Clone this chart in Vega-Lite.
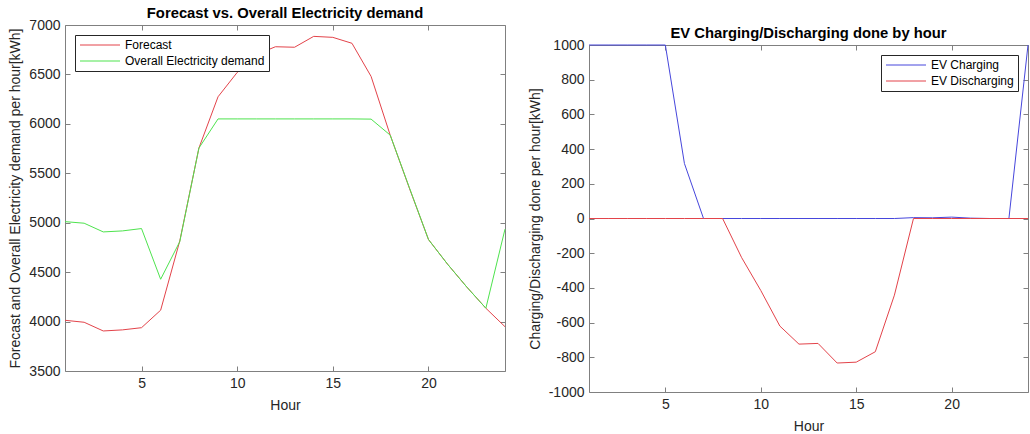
{
  "$schema": "https://vega.github.io/schema/vega-lite/v6.json",
  "padding": {"left": 8, "top": 5, "right": 0, "bottom": 0},
  "background": "white",
  "datasets": {
    "demand": [
      {"hour": 1, "series": "Forecast", "value": 4013},
      {"hour": 2, "series": "Forecast", "value": 3993},
      {"hour": 3, "series": "Forecast", "value": 3905},
      {"hour": 4, "series": "Forecast", "value": 3916},
      {"hour": 5, "series": "Forecast", "value": 3938},
      {"hour": 6, "series": "Forecast", "value": 4115},
      {"hour": 7, "series": "Forecast", "value": 4816},
      {"hour": 8, "series": "Forecast", "value": 5755},
      {"hour": 9, "series": "Forecast", "value": 6274},
      {"hour": 10, "series": "Forecast", "value": 6520},
      {"hour": 11, "series": "Forecast", "value": 6700},
      {"hour": 12, "series": "Forecast", "value": 6780},
      {"hour": 13, "series": "Forecast", "value": 6775},
      {"hour": 14, "series": "Forecast", "value": 6885},
      {"hour": 15, "series": "Forecast", "value": 6875},
      {"hour": 16, "series": "Forecast", "value": 6815},
      {"hour": 17, "series": "Forecast", "value": 6480},
      {"hour": 18, "series": "Forecast", "value": 5886},
      {"hour": 19, "series": "Forecast", "value": 5350},
      {"hour": 20, "series": "Forecast", "value": 4830},
      {"hour": 21, "series": "Forecast", "value": 4580},
      {"hour": 22, "series": "Forecast", "value": 4350},
      {"hour": 23, "series": "Forecast", "value": 4135},
      {"hour": 24, "series": "Forecast", "value": 3948},
      {"hour": 1, "series": "Overall Electricity demand", "value": 5011},
      {"hour": 2, "series": "Overall Electricity demand", "value": 4995},
      {"hour": 3, "series": "Overall Electricity demand", "value": 4907},
      {"hour": 4, "series": "Overall Electricity demand", "value": 4917},
      {"hour": 5, "series": "Overall Electricity demand", "value": 4941},
      {"hour": 6, "series": "Overall Electricity demand", "value": 4428},
      {"hour": 7, "series": "Overall Electricity demand", "value": 4809},
      {"hour": 8, "series": "Overall Electricity demand", "value": 5755},
      {"hour": 9, "series": "Overall Electricity demand", "value": 6050},
      {"hour": 10, "series": "Overall Electricity demand", "value": 6050},
      {"hour": 11, "series": "Overall Electricity demand", "value": 6050},
      {"hour": 12, "series": "Overall Electricity demand", "value": 6050},
      {"hour": 13, "series": "Overall Electricity demand", "value": 6050},
      {"hour": 14, "series": "Overall Electricity demand", "value": 6050},
      {"hour": 15, "series": "Overall Electricity demand", "value": 6050},
      {"hour": 16, "series": "Overall Electricity demand", "value": 6050},
      {"hour": 17, "series": "Overall Electricity demand", "value": 6048},
      {"hour": 18, "series": "Overall Electricity demand", "value": 5886},
      {"hour": 19, "series": "Overall Electricity demand", "value": 5355},
      {"hour": 20, "series": "Overall Electricity demand", "value": 4830},
      {"hour": 21, "series": "Overall Electricity demand", "value": 4580},
      {"hour": 22, "series": "Overall Electricity demand", "value": 4350},
      {"hour": 23, "series": "Overall Electricity demand", "value": 4135},
      {"hour": 24, "series": "Overall Electricity demand", "value": 4935}
    ],
    "ev": [
      {"hour": 1, "series": "EV Charging", "value": 1000},
      {"hour": 2, "series": "EV Charging", "value": 1000},
      {"hour": 3, "series": "EV Charging", "value": 1000},
      {"hour": 4, "series": "EV Charging", "value": 1000},
      {"hour": 5, "series": "EV Charging", "value": 1000},
      {"hour": 6, "series": "EV Charging", "value": 317},
      {"hour": 7, "series": "EV Charging", "value": 0},
      {"hour": 8, "series": "EV Charging", "value": 0},
      {"hour": 9, "series": "EV Charging", "value": 0},
      {"hour": 10, "series": "EV Charging", "value": 0},
      {"hour": 11, "series": "EV Charging", "value": 0},
      {"hour": 12, "series": "EV Charging", "value": 0},
      {"hour": 13, "series": "EV Charging", "value": 0},
      {"hour": 14, "series": "EV Charging", "value": 0},
      {"hour": 15, "series": "EV Charging", "value": 0},
      {"hour": 16, "series": "EV Charging", "value": 0},
      {"hour": 17, "series": "EV Charging", "value": 0},
      {"hour": 18, "series": "EV Charging", "value": 5},
      {"hour": 19, "series": "EV Charging", "value": 4},
      {"hour": 20, "series": "EV Charging", "value": 8},
      {"hour": 21, "series": "EV Charging", "value": 2},
      {"hour": 22, "series": "EV Charging", "value": 0},
      {"hour": 23, "series": "EV Charging", "value": 0},
      {"hour": 24, "series": "EV Charging", "value": 1000},
      {"hour": 1, "series": "EV Discharging", "value": 0},
      {"hour": 2, "series": "EV Discharging", "value": 0},
      {"hour": 3, "series": "EV Discharging", "value": 0},
      {"hour": 4, "series": "EV Discharging", "value": 0},
      {"hour": 5, "series": "EV Discharging", "value": 0},
      {"hour": 6, "series": "EV Discharging", "value": 0},
      {"hour": 7, "series": "EV Discharging", "value": 0},
      {"hour": 8, "series": "EV Discharging", "value": 0},
      {"hour": 9, "series": "EV Discharging", "value": -226},
      {"hour": 10, "series": "EV Discharging", "value": -415},
      {"hour": 11, "series": "EV Discharging", "value": -620},
      {"hour": 12, "series": "EV Discharging", "value": -724},
      {"hour": 13, "series": "EV Discharging", "value": -720},
      {"hour": 14, "series": "EV Discharging", "value": -833},
      {"hour": 15, "series": "EV Discharging", "value": -828},
      {"hour": 16, "series": "EV Discharging", "value": -768},
      {"hour": 17, "series": "EV Discharging", "value": -442},
      {"hour": 18, "series": "EV Discharging", "value": 0},
      {"hour": 19, "series": "EV Discharging", "value": 0},
      {"hour": 20, "series": "EV Discharging", "value": 0},
      {"hour": 21, "series": "EV Discharging", "value": 0},
      {"hour": 22, "series": "EV Discharging", "value": 0},
      {"hour": 23, "series": "EV Discharging", "value": 0},
      {"hour": 24, "series": "EV Discharging", "value": 0}
    ]
  },
  "config": {
    "font": "Liberation Sans",
    "view": {"stroke": "#808080", "strokeWidth": 1},
    "axis": {
      "grid": false,
      "domain": false,
      "tickColor": "#808080",
      "tickSize": -5,
      "labelColor": "#262626",
      "labelFontSize": 14,
      "labelPadding": 10,
      "labelFlush": false,
      "labelOverlap": false,
      "labelBound": false,
      "labelExpr": "'' + datum.value",
      "titleColor": "#262626",
      "titleFontSize": 14,
      "titleFontWeight": "normal",
      "titlePadding": 6
    },
    "axisX": {"labelPadding": 10, "titlePadding": 8},
    "title": {"fontSize": 14.8, "fontWeight": "bold", "color": "#000000", "offset": -3},
    "legend": {
      "title": null,
      "labelFontSize": 12,
      "labelColor": "#000000",
      "strokeColor": "#262626",
      "fillColor": "#ffffff",
      "padding": 4,
      "rowPadding": 4,
      "symbolType": "M-1,0H7",
      "symbolSize": 100,
      "symbolStrokeWidth": 1,
      "labelOffset": 34,
      "offset": 10
    }
  },
  "spacing": 18,
  "resolve": {"scale": {"color": "independent"}, "legend": {"color": "independent"}},
  "hconcat": [
    {
      "width": 440,
      "height": 346,
      "title": {"text": "Forecast vs. Overall Electricity demand"},
      "data": {"name": "demand"},
      "layer": [
        {
          "mark": {"type": "line", "strokeWidth": 1},
          "encoding": {
            "x": {"field": "hour", "type": "quantitative", "scale": {"domain": [1, 24], "nice": false}, "axis": {"values": [5, 10, 15, 20], "title": "Hour"}},
            "y": {"field": "value", "type": "quantitative", "scale": {"domain": [3500, 7000], "nice": false, "zero": false}, "axis": {"values": [3500, 4000, 4500, 5000, 5500, 6000, 6500, 7000], "title": "Forecast and Overall Electricity demand per hour[kWh]"}},
            "color": {"field": "series", "type": "nominal", "scale": {"domain": ["Forecast", "Overall Electricity demand"], "range": ["#e3434a", "#4ee34e"]}, "legend": {"orient": "top-left"}}
          }
        },
        {
          "mark": {"type": "point", "opacity": 0},
          "encoding": {
            "x": {"field": "hour", "type": "quantitative", "axis": {"orient": "top", "values": [5, 10, 15, 20], "labels": false, "title": null}},
            "y": {"field": "value", "type": "quantitative", "axis": {"orient": "right", "values": [3500, 4000, 4500, 5000, 5500, 6000, 6500, 7000], "labels": false, "title": null}}
          }
        }
      ],
      "resolve": {"axis": {"x": "independent", "y": "independent"}}
    },
    {
      "spacing": -25,
      "resolve": {"scale": {"color": "independent"}, "legend": {"color": "independent"}},
      "vconcat": [
        {
          "width": 439,
          "height": 0,
          "data": {"values": [{"gap": 1}]},
          "mark": {"type": "point", "opacity": 0, "size": 0, "strokeWidth": 0},
          "encoding": {},
          "view": {"stroke": null}
        },
        {
          "width": 439,
          "height": 347,
          "title": {"text": "EV Charging/Discharging done by hour"},
          "data": {"name": "ev"},
          "layer": [
            {
              "mark": {"type": "line", "strokeWidth": 1},
              "encoding": {
                "x": {"field": "hour", "type": "quantitative", "scale": {"domain": [1, 24], "nice": false}, "axis": {"values": [5, 10, 15, 20], "title": "Hour"}},
                "y": {"field": "value", "type": "quantitative", "scale": {"domain": [-1000, 1000], "nice": false}, "axis": {"values": [-1000, -800, -600, -400, -200, 0, 200, 400, 600, 800, 1000], "title": "Charging/Discharging done per hour[kWh]"}},
                "color": {"field": "series", "type": "nominal", "scale": {"domain": ["EV Charging", "EV Discharging"], "range": ["#4646dc", "#e3434a"]}, "legend": {"orient": "top-right"}}
              }
            },
            {
              "mark": {"type": "point", "opacity": 0},
              "encoding": {
                "x": {"field": "hour", "type": "quantitative", "axis": {"orient": "top", "values": [5, 10, 15, 20], "labels": false, "title": null}},
                "y": {"field": "value", "type": "quantitative", "axis": {"orient": "right", "values": [-1000, -800, -600, -400, -200, 0, 200, 400, 600, 800, 1000], "labels": false, "title": null}}
              }
            }
          ],
          "resolve": {"axis": {"x": "independent", "y": "independent"}}
        }
      ]
    }
  ]
}
